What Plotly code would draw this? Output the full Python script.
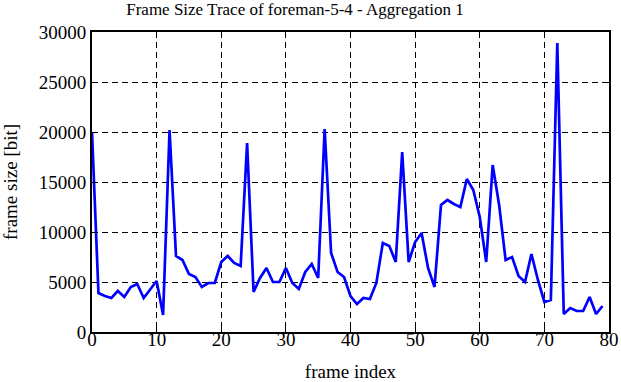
import plotly.graph_objects as go

frame_index = list(range(80))
frame_size = [20000, 3900, 3600, 3400, 4100, 3500, 4500, 4800, 3400, 4200,
              5100, 1700, 20200, 7600, 7200, 5800, 5500, 4500, 4900, 4900,
              7000, 7600, 6900, 6600, 18900, 4000, 5400, 6400, 5000, 5000,
              6400, 4900, 4300, 6000, 6800, 5400, 20300, 7900, 6000, 5500,
              3600, 2800, 3400, 3300, 4900, 8900, 8600, 7000, 18000, 7000,
              9000, 9900, 6400, 4500, 12700, 13200, 12800, 12500, 15300, 14200,
              11500, 7000, 16700, 12700, 7200, 7500, 5600, 5000, 7800, 5200,
              3000, 3200, 28900, 1800, 2400, 2100, 2100, 3500, 1800, 2600]

x_ticks = [0, 10, 20, 30, 40, 50, 60, 70, 80]
x_labels = [str(v) for v in x_ticks]
y_ticks = [0, 5000, 10000, 15000, 20000, 25000, 30000]
y_labels = ["0", "5000", "10000", "15000", "20000", "25000", "30000"]

font = "Liberation Serif"

fig = go.Figure()
fig.add_trace(go.Scatter(x=frame_index, y=frame_size, mode="lines",
                         line=dict(color="#0000ff", width=2.7)))

axis_common = dict(showline=True, linecolor="black", linewidth=2, mirror="ticks",
                   ticks="inside", ticklen=5, tickcolor="black", tickwidth=1,
                   showgrid=True, gridcolor="black", griddash="6px,4px", gridwidth=1,
                   zeroline=False, automargin=False,
                   tickfont=dict(family=font, size=19, color="black"))

fig.update_layout(
    width=621, height=382,
    margin=dict(l=92, r=12, t=32, b=50),
    plot_bgcolor="white", paper_bgcolor="white",
    showlegend=False,
    font=dict(family=font, color="black"),
    title=dict(text="Frame Size Trace of foreman-5-4 - Aggregation 1",
               x=295 / 621, xref="container", xanchor="center",
               y=1 - 9.5 / 382, yref="container", yanchor="middle",
               font=dict(family=font, size=17, color="black")),
    xaxis=dict(range=[0, 80], tickvals=x_ticks, ticktext=x_labels,
               ticklabelstandoff=-11,
               title=dict(text="frame index", font=dict(family=font, size=19, color="black"), standoff=17),
               **axis_common),
    yaxis=dict(range=[0, 30000], tickvals=y_ticks, ticktext=y_labels,
               title=dict(text="frame size [bit]", font=dict(family=font, size=19, color="black"), standoff=18),
               **axis_common),
)

fig.write_html("out.html", config={"displayModeBar": False},
               post_script="document.body.style.margin='0';")
